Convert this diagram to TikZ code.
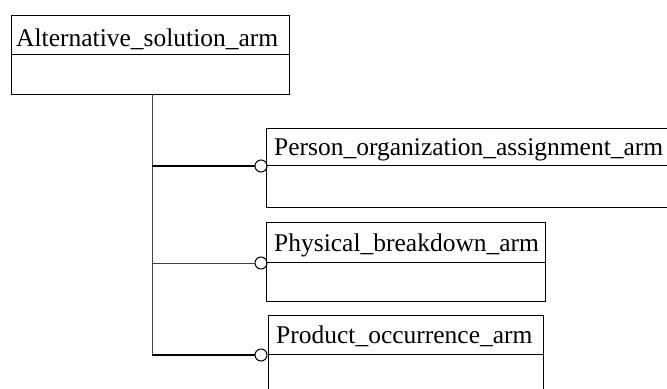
\documentclass[tikz,border=0pt]{standalone}
\usepackage{fontspec}
\setmainfont{Liberation Serif}
\begin{document}
\begin{tikzpicture}[x=1bp,y=-1bp,
  entity/.style={draw, rectangle, anchor=north west, inner sep=0pt, line width=1.1bp},
  title/.style={anchor=base west, inner sep=0pt, font=\fontsize{25.5bp}{30bp}\selectfont},
  divider/.style={line width=1bp},
  link/.style={line width=1.2bp},
  thinlink/.style={line width=0.8bp, black!75},
  joint/.style={draw, circle, inner sep=0pt, minimum size=12bp, line width=1bp}]
\useasboundingbox (0,0) rectangle (667,388);
\begin{scope}
\clip (0,0) rectangle (667,388);

% entity boxes
\node[entity, minimum width=278bp, minimum height=79bp] (alt) at (11,15) {};
\node[entity, minimum width=440bp, minimum height=79bp] (per) at (266,128) {};
\node[entity, minimum width=279bp, minimum height=79bp] (phy) at (266,222) {};
\node[entity, minimum width=275bp, minimum height=90bp] (pro) at (268,315) {};

% header dividers
\draw[divider] (11,54) -- (289,54);
\draw[divider] (266,165) -- (706,165);
\draw[divider] (266,262) -- (545,262);
\draw[divider] (268,354) -- (543,354);

% titles
\node[title] (altT) at (16,46) {Alternative\_solution\_arm};
\node[title] (perT) at (274,155) {Person\_organization\_assignment\_arm};
\node[title] (phyT) at (274,251) {Physical\_breakdown\_arm};
\node[title] (proT) at (276,343) {Product\_occurrence\_arm};

% connectors
\coordinate (top) at (152,94);
\node[joint] (jper) at (261,166) {};
\node[joint] (jphy) at (261,263) {};
\node[joint] (jpro) at (261,355) {};
\coordinate (bot) at (top |- jpro);
\draw[thinlink] (top) -- (bot);
\draw[link] (bot) -- (jpro.west);
\draw[link] (top |- jper) -- (jper.west);
\draw[thinlink] (top |- jphy) -- (jphy.west);
\end{scope}
\end{tikzpicture}
\end{document}
